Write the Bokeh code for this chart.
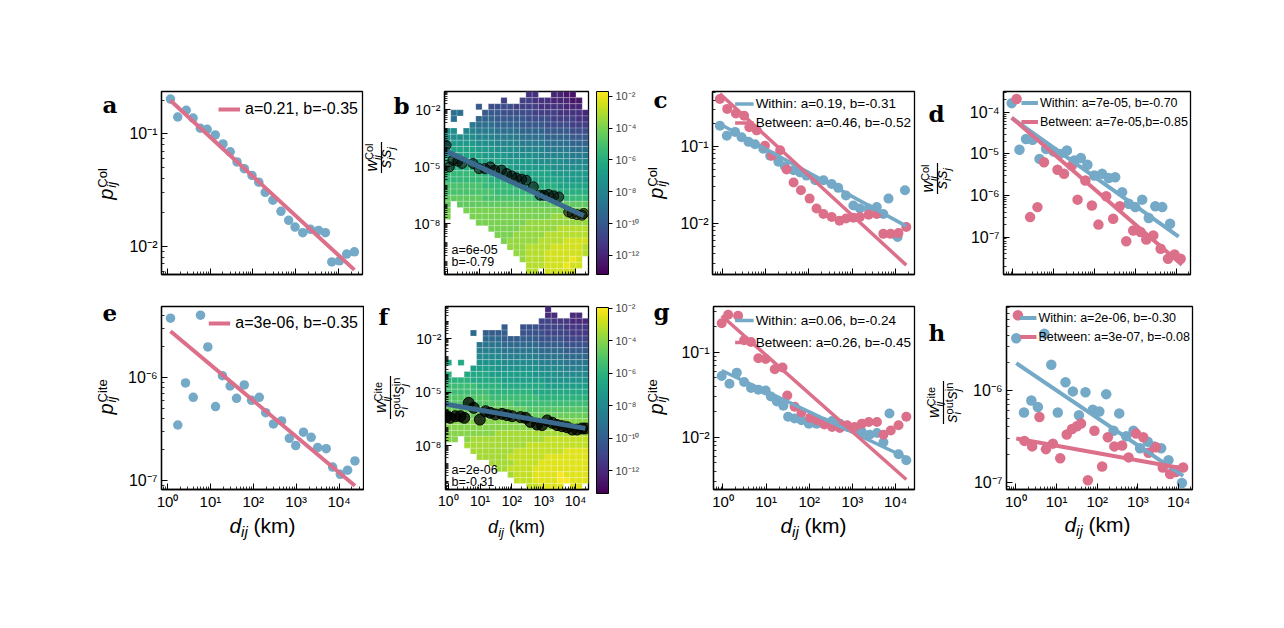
import numpy as np
from bokeh.plotting import figure
from bokeh.layouts import row, column
from bokeh.models import (FixedTicker, Label, Legend, LegendItem, ColorBar, LogColorMapper,
                          Range1d, BoxAnnotation, ColumnDataSource, CustomJSTickFormatter)
from bokeh.palettes import Viridis256
from bokeh.embed import file_html
from bokeh.resources import INLINE

BLUE = "#74a9c7"
PINK = "#dc6f8a"
DARK = "#3a6b8e"
SANS = "Liberation Sans"
SERIF = "DejaVu Serif"

# ---------------- data (log10 values) ----------------
# panel a : collaboration probability vs distance
a_logd = [0.07, 0.24, 0.44, 0.60, 0.77, 0.93, 1.12, 1.30, 1.47, 1.63, 1.80, 1.98, 2.14, 2.29,
          2.47, 2.66, 2.84, 2.99, 3.17, 3.35, 3.54, 3.70, 3.85, 4.03, 4.20, 4.38]
a_logp = [-0.69, -0.85, -0.79, -0.86, -0.95, -0.96, -1.01, -1.09, -1.16, -1.25, -1.31, -1.37, -1.43,
          -1.52, -1.59, -1.69, -1.77, -1.83, -1.88, -1.85, -1.86, -1.88, -2.14, -2.13, -2.07, -2.05]
a_fit = (0.21, -0.35)

# panel b : normalised collaboration weight
b_logd = [-0.04, 0.06, 0.17, 0.33, 0.46, 0.80, 0.99, 1.17, 1.34, 1.48, 1.69, 1.85, 2.01, 2.16,
          2.32, 2.46, 2.69, 2.90, 3.02, 3.16, 3.32, 3.48, 3.79, 3.90, 4.05, 4.21, 4.26]
b_logw = [-3.88, -5.02, -4.67, -4.72, -4.84, -4.84, -5.11, -5.11, -5.02, -5.19, -5.19, -5.37, -5.49,
          -5.60, -5.67, -5.72, -6.07, -6.51, -6.51, -6.47, -6.54, -6.60, -7.39, -7.47, -7.53, -7.56, -7.47]
b_fit = (6e-05, -0.79)
# 2-d histogram, rows top->bottom, one character per cell ('.' = empty)
b_rows = [
    ".............DD..CCBB..",
    ".........E..EEDDDCCCBB.",
    ".....G.FFFFEEEEDDDDCCC.",
    ".II...GGGFFFFFEEEEDDDDC",
    ".I...HHHGGGGGFFFFEEEEDD",
    "....JIIIHHHHGGGGFFFFEEE",
    "LL.KKJJJIIIIHHHHGGGGFFF",
    "LLLLLKKKJJJJIIIIHHHHGGG",
    "MMMMMLLLKKKKJJJJIIIIHHH",
    "NNNNNMMMLLLLKKKKJJJJIII",
    "NNNNNNMMMMLLLLLKKKKKJJJ",
    "OOOOONNNNMMMMMLLLLLKKKK",
    "OOOOOONNNNNMMMMMMLLLLLL",
    "PPPPPPOOOOONNNNNNMMMMMM",
    "PPPPPPPOOOOOONNNNNNMMMM",
    "QQQQQQPPPPPPPOOOOONNNNN",
    "QQQQQQQQPPPPPPPOOOOOOOO",
    "RRRRRRQQQQQQQQPPPPPPPPP",
    "R.RRRRRRRRRRRRRRRRRRRRR",
    "S..SSSSSSSSSSSSSSSSSSSS",
    "S...SSSSSSSSSSSSSTTTTTT",
    ".....SSSSSSSSTTTTTTTTTT",
    ".......SSSSSTTTTTTUUUUU",
    "........SSSTTTTTUUUUUUU",
    ".........STTTTTUUUUVVVV",
    "..........TTTUUUUVVVVVU",
    "...........TTUUUVVVVVVU",
    "............TUUUVVVVWV.",
    ".............UUUVVVWVV.",
    ".............UU.VVVVV..",
]

# panel c : collaboration, within / between
c_logd_w = [-0.05, 0.11, 0.30, 0.45, 0.61, 0.76, 0.95, 1.11, 1.30, 1.45, 1.65, 1.80, 1.95, 2.15,
            2.34, 2.53, 2.68, 2.86, 3.03, 3.18, 3.38, 3.57, 3.72, 3.84, 4.05, 4.22]
c_logp_w = [-0.73, -0.86, -0.81, -0.88, -0.94, -0.97, -1.03, -1.12, -1.20, -1.26, -1.31, -1.34, -1.38,
            -1.44, -1.44, -1.49, -1.54, -1.64, -1.77, -1.81, -1.81, -1.79, -1.88, -1.68, -2.18, -1.57]
c_logd_b = [-0.05, 0.12, 0.32, 0.51, 0.63, 0.80, 0.99, 1.15, 1.34, 1.49, 1.65, 1.82, 2.02, 2.18,
            2.34, 2.53, 2.71, 2.86, 3.03, 3.18, 3.38, 3.57, 3.72, 3.89, 4.07, 4.25]
c_logp_b = [-0.38, -0.51, -0.57, -0.60, -0.75, -0.79, -0.99, -1.12, -1.05, -1.30, -1.47, -1.57, -1.68,
            -1.81, -1.88, -1.92, -1.97, -1.94, -1.93, -1.92, -1.89, -1.88, -2.14, -2.14, -2.13, -2.05]
c_fit_w = (0.19, -0.31)
c_fit_b = (0.46, -0.52)

# panel d
d_logd_w = [-0.03, 0.16, 0.32, 0.48, 0.65, 0.81, 0.99, 1.15, 1.32, 1.50, 1.66, 1.82, 1.99, 2.18,
            2.34, 2.50, 2.67, 2.83, 2.99, 3.16, 3.32, 3.48, 3.65, 3.84]
d_logw_w = [-3.78, -4.90, -4.64, -4.66, -5.12, -4.88, -4.94, -5.00, -4.92, -5.16, -5.10, -5.26, -5.52,
            -5.48, -5.58, -5.56, -5.92, -6.20, -6.28, -6.10, -6.54, -6.26, -6.28, -6.68]
d_logd_b = [0.09, 0.42, 0.60, 0.76, 1.09, 1.25, 1.44, 1.58, 1.77, 1.93, 2.09, 2.28, 2.45, 2.61,
            2.77, 2.94, 3.12, 3.26, 3.43, 3.61, 3.79, 3.95, 4.10]
d_logw_b = [-3.68, -6.52, -6.28, -5.20, -5.38, -5.48, -5.28, -6.10, -5.64, -6.24, -6.70, -6.02, -6.56,
            -6.26, -7.10, -6.84, -6.88, -7.06, -6.96, -7.28, -7.52, -7.42, -7.52]
d_fit_w = (7e-05, -0.70)
d_fit_b = (7e-05, -0.85)

# panel e : citation probability
e_logd = [0.07, 0.24, 0.42, 0.60, 0.77, 0.94, 1.12, 1.28, 1.46, 1.61, 1.79, 1.96, 2.14, 2.29,
          2.47, 2.66, 2.84, 2.99, 3.17, 3.35, 3.50, 3.70, 3.85, 4.03, 4.20, 4.37]
e_logp = [-5.42, -6.46, -6.05, -6.19, -5.39, -5.70, -6.28, -5.98, -6.08, -6.20, -6.07, -6.22, -6.19,
          -6.34, -6.45, -6.42, -6.59, -6.66, -6.53, -6.58, -6.68, -6.69, -6.87, -6.94, -6.90, -6.81]
e_fit = (3e-06, -0.35)

# panel f
f_logd = [-0.04, 0.06, 0.22, 0.38, 0.50, 0.64, 0.80, 0.99, 1.17, 1.32, 1.48, 1.69, 1.85, 2.01,
          2.27, 2.43, 2.58, 2.79, 2.95, 3.11, 3.27, 3.42, 3.58, 3.74, 3.90, 4.05, 4.21, 4.31]
f_logw = [-6.35, -6.44, -6.35, -6.35, -6.44, -5.60, -5.88, -6.54, -6.07, -6.16, -6.25, -6.22, -6.29,
          -6.35, -6.40, -6.44, -6.67, -6.82, -6.85, -6.59, -6.72, -6.85, -6.91, -6.97, -7.10, -7.10,
          -7.04, -7.04]
f_fit = (2e-06, -0.31)
f_rows = [
    "................C......",
    "................CC..CC.",
    "...............EEDDDCCC",
    ".........G..FFFEEEEDDDD",
    "....H.GGGG..FFFFEEEEDDD",
    "......HHHGGGGGGFFFFEEEE",
    ".....IIIIHHHHHHGGGGFFFF",
    ".....JJJJIIIIIIHHHHGGGG",
    ".....KKKKJJJJJJIIIIHHHH",
    "N.N..LLLLKKKKKKJJJJIIII",
    "....MMMMLLLLLLLKKKKJJJJ",
    "O..NNNNMMMMMMMLLLLKKKKK",
    "OOOONNNNNMMMMMMMLLLLLLL",
    "PPPPPOOOONNNNNNNMMMMMMM",
    "PPPPPPPOOOOOOONNNNNNNNN",
    "QQQQQQQPPPPPPPPOOOOOOOO",
    "QQQQQQQQQQQPPPPPPPPPPPP",
    "RRRRRRRRRRRRRQQQQQQQQQQ",
    "RRRRRRRRRRRRRRRRRRRRRRR",
    "SSSSSSSSSSSSSSSSSSSSSSS",
    "SSSSSSSSSSSSSSSSSTTTTTT",
    "SSSSSSSSTTTTTTTTTTTTTTT",
    "SS.STTTTTTTTTTTTUUUUUUU",
    "...TTTTTTTTTTUUUUUUUUUU",
    "....TTTTTTTUUUUUUUUVVVV",
    ".....TTTTTUUUUUUVVVVVVV",
    ".......TTTTUUUUVVVVVVVV",
    "........TTUUUUVVVVVVVVV",
    "..........TUUUVVVVWVVVV",
    "...........UUUVVVVWWVVV",
    ".............UUVVVV.VV.",
]

# panel g
g_logd_w = [-0.03, 0.15, 0.32, 0.49, 0.65, 0.82, 0.99, 1.11, 1.25, 1.40, 1.51, 1.66, 1.82, 1.99,
            2.17, 2.34, 2.53, 2.71, 2.89, 3.05, 3.22, 3.40, 3.57, 3.72, 3.86, 4.07, 4.25]
g_logp_w = [-1.28, -1.37, -1.24, -1.35, -1.42, -1.44, -1.45, -1.52, -1.58, -1.63, -1.76, -1.78, -1.80,
            -1.84, -1.84, -1.82, -1.81, -1.84, -1.88, -1.90, -1.94, -1.97, -1.95, -2.06, -1.72, -2.20, -2.27]
g_logd_b = [-0.03, 0.12, 0.35, 0.49, 0.65, 0.82, 0.99, 1.20, 1.38, 1.49, 1.66, 1.82, 2.02, 2.18,
            2.35, 2.53, 2.71, 2.88, 3.05, 3.22, 3.38, 3.57, 3.72, 3.89, 4.07, 4.25]
g_logp_b = [-0.66, -0.56, -0.57, -0.86, -0.88, -1.07, -1.08, -1.20, -1.18, -1.51, -1.64, -1.71, -1.77,
            -1.80, -1.85, -1.88, -1.89, -1.86, -1.88, -1.84, -1.82, -1.82, -1.97, -1.92, -1.86, -1.76]
g_fit_w = (0.06, -0.24)
g_fit_b = (0.26, -0.45)

# panel h
h_logd_w = [0.01, 0.20, 0.38, 0.54, 0.70, 0.87, 1.03, 1.22, 1.40, 1.55, 1.71, 1.89, 2.05, 2.22,
            2.40, 2.54, 2.71, 2.89, 3.05, 3.24, 3.40, 3.57, 3.75, 3.93, 4.08]
h_logw_w = [-5.43, -6.24, -6.11, -6.18, -5.38, -5.72, -6.24, -5.91, -6.01, -6.27, -6.02, -6.21, -6.23,
            -6.04, -6.44, -6.25, -6.50, -6.44, -6.63, -6.56, -6.61, -6.63, -6.76, -6.87, -7.01]
h_logd_b = [0.05, 0.21, 0.40, 0.58, 0.74, 0.91, 1.09, 1.25, 1.38, 1.50, 1.60, 1.77, 1.93, 2.12,
            2.26, 2.42, 2.61, 2.77, 2.95, 3.13, 3.26, 3.44, 3.61, 3.79, 3.93, 4.11]
h_logw_b = [-5.18, -6.55, -6.61, -6.29, -6.64, -6.58, -6.74, -6.48, -6.42, -6.39, -6.36, -6.98, -6.44,
            -6.83, -6.51, -6.61, -6.60, -6.73, -6.47, -6.51, -6.68, -6.62, -6.84, -6.91, -6.89, -6.84]
h_fit_w = (2e-06, -0.30)
h_fit_b = (3e-07, -0.08)

# histogram cell code -> log10 density
LEVEL = {ch: -13 + 0.5 * i for i, ch in enumerate("ABCDEFGHIJKLMNOPQRSTUVWX")}

# ---------------- helpers ----------------
EM = {"p": .556, "w": .722, "s": .5, "d": .556, "i": .222, "j": .222, "C": .722, "o": .556,
      "l": .222, "t": .278, "e": .556, "u": .556, "n": .556, "k": .5, "m": .833, "(": .333,
      ")": .333, " ": .278}
MID = 0.3465   # distance (in em) from the alphabetic baseline up to the middle of the text box


def tw(s, size):
    return sum(EM.get(c, .55) for c in s) * size


def pow_fmt():
    return CustomJSTickFormatter(code="""
const k = Math.round(Math.log10(tick));
const m = {"-": "\u207b", "0": "\u2070", "1": "\u00b9", "2": "\u00b2", "3": "\u00b3",
           "4": "\u2074", "5": "\u2075", "6": "\u2076", "7": "\u2077", "8": "\u2078", "9": "\u2079"};
return "10" + String(k).split("").map(c => m[c]).join("");
""")


def minor_ticks(lo, hi, skip_exps=(), with_decades=False):
    out = []
    start = 1 if with_decades else 2
    for k in range(int(np.floor(lo)) - 1, int(np.ceil(hi)) + 1):
        for m in range(start, 10):
            if m == 1 and k in skip_exps:
                continue
            v = m * 10.0 ** k
            if lo <= np.log10(v) <= hi:
                out.append(v)
    return out


# rows: (page y of row top, top border, frame height, bottom border)
ROW1 = (0, 91, 183, 16)
ROW2 = (290, 16, 183, 21)


def panel(x0, w, fl, fw, rw, xr, yr, y_exps, show_x, tick_size=16, xtick_size=15, dense_y=False):
    ry, tb, fh, bb = rw
    p = figure(x_axis_type="log", y_axis_type="log",
               x_range=Range1d(10 ** xr[0], 10 ** xr[1]), y_range=Range1d(10 ** yr[0], 10 ** yr[1]),
               frame_width=fw, frame_height=fh,
               min_border_left=fl - x0, min_border_right=x0 + w - fl - fw,
               min_border_top=tb, min_border_bottom=bb,
               output_backend="svg", toolbar_location=None)
    p.grid.visible = False
    p.outline_line_color = "black"
    p.outline_line_width = 1.3
    p.outline_line_alpha = 1
    p.background_fill_color = "white"
    p.border_fill_color = "white"
    p.xaxis.ticker = FixedTicker(ticks=[10.0 ** k for k in range(0, 5)], minor_ticks=minor_ticks(*xr))
    p.yaxis.ticker = FixedTicker(ticks=[10.0 ** k for k in y_exps],
                                 minor_ticks=minor_ticks(yr[0], yr[1], y_exps, with_decades=dense_y))
    for ax in (p.xaxis[0], p.yaxis[0]):
        ax.formatter = pow_fmt()
        ax.major_tick_in = 6
        ax.major_tick_out = 0
        ax.minor_tick_in = 3
        ax.minor_tick_out = 0
        ax.axis_line_width = 1.3
        ax.major_tick_line_width = 1
        ax.minor_tick_line_width = 0.8
        ax.major_label_text_font = SANS
        ax.major_label_text_color = "black"
        ax.major_label_standoff = 4
    p.yaxis.major_label_text_font_size = f"{tick_size}px"
    p.xaxis.major_label_text_font_size = f"{xtick_size}px"
    p.xaxis.major_label_standoff = 3
    if not show_x:
        p.xaxis.formatter = CustomJSTickFormatter(code="return '';")
        p.xaxis.major_label_text_font_size = "1px"
        p.xaxis.major_label_standoff = 0
    return p, (fl, ry + tb, fw, fh)


def strip(x0, w, rw):
    ry, tb, fh, bb = rw
    s = figure(frame_width=w, frame_height=fh, x_range=Range1d(0, w), y_range=Range1d(0, fh),
               min_border_left=0, min_border_right=0, min_border_top=tb, min_border_bottom=bb,
               x_axis_location=None, y_axis_location=None, toolbar_location=None,
               output_backend="svg")
    s.grid.visible = False
    s.outline_line_color = None
    s.background_fill_color = "white"
    s.border_fill_color = "white"
    return s, (x0, ry + tb, w, fh)


def put(p, frame, X, Y, text, size, style="normal", font=SANS, angle=0, align="left"):
    """X, Y: page position of the start of the alphabetic baseline."""
    fl, ft, fw, fh = frame
    if angle == 90:
        X = X - MID * size
    else:
        Y = Y - MID * size
    p.add_layout(Label(x=X - fl, y=ft + fh - Y, x_units="screen", y_units="screen", text=text,
                       text_font=font, text_font_size=f"{size}px", text_font_style=style,
                       angle=angle, angle_units="deg", text_align=align,
                       text_baseline="middle", text_color="black"))


def vmath(p, frame, xb, yc, base, sub, sup, F=20, f=13, dsub=3.5, dsup=5.5):
    L = tw(base, F) + max(tw(sub, f), tw(sup, f))
    y0 = yc + L / 2
    put(p, frame, xb, y0, base, F, "italic", angle=90)
    put(p, frame, xb + dsub, y0 - tw(base, F) - 1, sub, f, "italic", angle=90)
    put(p, frame, xb - dsup, y0 - tw(base, F) - 1, sup, f, "normal", angle=90)


def vfrac(p, frame, xbar, yc, num, den, F=16, f=11, gap_n=4, gap_d=10, dsub=3, dsup=5):
    nb, ns, nu = num
    nlen = tw(nb, F) + max(tw(ns, f), tw(nu, f))
    dlen = sum(tw(b, F) + max(tw(s, f), tw(u, f)) for b, s, u in den)
    blen = max(nlen, dlen) + 3
    fl, ft, fw, fh = frame
    p.add_layout(BoxAnnotation(left=xbar - 0.6 - fl, right=xbar + 0.6 - fl,
                               bottom=ft + fh - (yc + blen / 2), top=ft + fh - (yc - blen / 2),
                               left_units="screen", right_units="screen",
                               top_units="screen", bottom_units="screen",
                               fill_color="black", fill_alpha=1, line_color=None))
    xn = xbar - gap_n
    y0 = yc + nlen / 2
    put(p, frame, xn, y0, nb, F, "italic", angle=90)
    put(p, frame, xn + dsub, y0 - tw(nb, F), ns, f, "italic", angle=90)
    put(p, frame, xn - dsup, y0 - tw(nb, F), nu, f, "normal", angle=90)
    xd = xbar + gap_d
    y = yc + dlen / 2
    for b, s, u in den:
        put(p, frame, xd, y, b, F, "italic", angle=90)
        if s:
            put(p, frame, xd + dsub, y - tw(b, F), s, f, "italic", angle=90)
        if u:
            put(p, frame, xd - dsup, y - tw(b, F), u, f, "normal", angle=90)
        y -= tw(b, F) + max(tw(s, f), tw(u, f))


def xlabel(p, frame, xc, yb, F=21, f=15):
    dw, iw, sw, kw = tw("d", F), tw("ij", f), tw(" ", F), tw("(km)", F)
    x0 = xc - (dw + iw + sw + kw) / 2
    put(p, frame, x0, yb, "d", F, "italic")
    put(p, frame, x0 + dw, yb + 4, "ij", f, "italic")
    put(p, frame, x0 + dw + iw + sw, yb, "(km)", F)


def letter(p, frame, X, Y, t):
    put(p, frame, X, Y, t, 23, "bold", font=SERIF)


def dots(p, logd, logv, color, size):
    return p.scatter(np.power(10.0, logd), np.power(10.0, logv), size=size, marker="circle",
                     fill_color=color, line_color=None)


def fitline(p, fit, lo, hi, color, width):
    a, b = fit
    xs = np.power(10.0, [lo, hi])
    return p.line(xs, a * xs ** b, line_color=color, line_width=width)


def legend(p, items, size, gw, H, spacing, margin, standoff):
    lg = Legend(items=[LegendItem(label=t, renderers=[r]) for t, r in items], location="top_right",
                margin=margin, padding=0, spacing=spacing, glyph_width=gw, glyph_height=H,
                label_height=H, label_standoff=standoff, label_text_font=SANS,
                label_text_font_size=f"{size}px", label_text_color="black",
                border_line_color=None, background_fill_alpha=0)
    p.add_layout(lg)


def heat(p, rows, xr, yr, mapper):
    nr, nc = len(rows), len(rows[0])
    xe = np.logspace(xr[0], xr[1], nc + 1)
    ye = np.logspace(yr[1], yr[0], nr + 1)
    L, R, T, B, V = [], [], [], [], []
    for r, s in enumerate(rows):
        for c, chv in enumerate(s[:nc]):
            if chv == ".":
                continue
            L.append(xe[c]); R.append(xe[c + 1]); T.append(ye[r]); B.append(ye[r + 1])
            V.append(10.0 ** LEVEL[chv])
    src = ColumnDataSource(dict(left=L, right=R, top=T, bottom=B, v=V))
    p.quad(left="left", right="right", top="top", bottom="bottom", source=src,
           fill_color={"field": "v", "transform": mapper}, line_color="white",
           line_alpha=0.35, line_width=0.6)


def colorbar(p, frame, mapper, dy=0, h=None):
    fl, ft, fw, fh = frame
    cb = ColorBar(color_mapper=mapper, location=(fw + 8, dy), orientation="vertical", width=12,
                  height=h or fh, padding=0, margin=0,
                  ticker=FixedTicker(ticks=[10.0 ** k for k in (-12, -10, -8, -6, -4, -2)]),
                  formatter=pow_fmt(), major_tick_in=0, major_tick_out=4,
                  major_tick_line_color="black", minor_tick_line_color=None,
                  major_label_text_font=SANS, major_label_text_font_size="11px",
                  label_standoff=3, bar_line_color="black", border_line_color=None,
                  background_fill_alpha=0)
    p.add_layout(cb)


XR_AE = (-0.14, 4.57)
XR_BF = (-0.09, 4.41)
XR_CG = (-0.22, 4.44)
XR_DH = (-0.23, 4.34)

# ---------------- label strips ----------------
sa, SA = strip(0, 122, ROW1)
sb, SB = strip(364, 47, ROW1)
sc, SC = strip(640, 35, ROW1)
sd, SD = strip(916, 42, ROW1)
se, SE = strip(0, 122, ROW2)
sf, SF = strip(364, 48, ROW2)
sg, SG = strip(640, 36, ROW2)
sh, SH = strip(916, 54, ROW2)
X_TOP = ROW2[0] + ROW2[1] + ROW2[2] + ROW2[3]
sx = figure(frame_width=1284, frame_height=628 - X_TOP, x_range=Range1d(0, 1284),
            y_range=Range1d(0, 628 - X_TOP),
            min_border_left=0, min_border_right=0, min_border_top=0, min_border_bottom=0,
            x_axis_location=None, y_axis_location=None, toolbar_location=None, output_backend="svg")
sx.grid.visible = False
sx.outline_line_color = None
SX = (0, X_TOP, 1284, 628 - X_TOP)

# ---- a ----
pa, FA = panel(122, 242, 161, 201, ROW1, XR_AE, (-2.252, -0.623), (-2, -1), False)
dots(pa, a_logd, a_logp, BLUE, 9.5)
la = fitline(pa, a_fit, min(a_logd), max(a_logd), PINK, 4)
legend(pa, [("a=0.21, b=-0.35", la)], 16, 22, 28, 0, 4, 5)
vmath(sa, SA, 112, 184, "p", "ij", "Col")
letter(sa, SA, 102, 112, "a")

# ---- b ----
YR_B = (-10.68, -1.053)
pb, FB = panel(411, 229, 444, 144, ROW1, XR_BF, YR_B, (-8, -5, -2), False, tick_size=14, dense_y=True)
mb = LogColorMapper(palette=Viridis256, low=10 ** -13.2, high=10 ** -1.7)
heat(pb, b_rows, XR_BF, YR_B, mb)
pb.scatter(np.power(10.0, b_logd), np.power(10.0, b_logw), size=10, marker="circle",
           fill_color="black", fill_alpha=0.55, line_color="black", line_alpha=0.8)
fitline(pb, b_fit, XR_BF[0], max(b_logd), DARK, 5)
colorbar(pb, FB, mb)
put(pb, FB, 451, 254, "a=6e-05", 12.5)
put(pb, FB, 451, 266, "b=-0.79", 12.5)
vfrac(sb, SB, 381, 157, ("w", "ij", "Col"), [("s", "i", ""), ("s", "j", "")])
letter(sb, SB, 393, 113, "b")

# ---- c ----
pc, FC = panel(675, 241, 712, 202, ROW1, XR_CG, (-2.67, -0.283), (-2, -1), False)
dots(pc, c_logd_w, c_logp_w, BLUE, 10)
dots(pc, c_logd_b, c_logp_b, PINK, 10)
lo_c, hi_c = min(c_logd_w + c_logd_b), max(c_logd_w + c_logd_b)
lcw = fitline(pc, c_fit_w, lo_c, hi_c, BLUE, 3.5)
lcb = fitline(pc, c_fit_b, lo_c, hi_c, PINK, 3.5)
legend(pc, [("Within: a=0.19, b=-0.31", lcw), ("Between: a=0.46, b=-0.52", lcb)], 13.5, 19, 19, 0, 3, 2)
vmath(sc, SC, 662, 183, "p", "ij", "Col")
letter(sc, SC, 653, 107, "c")

# ---- d ----
pd_, FD = panel(958, 326, 1003, 187, ROW1, XR_DH, (-7.9, -3.5), (-7, -6, -5, -4), False)
dots(pd_, d_logd_w, d_logw_w, BLUE, 10.5)
dots(pd_, d_logd_b, d_logw_b, PINK, 10.5)
lo_d, hi_d = min(d_logd_w + d_logd_b), max(d_logd_w + d_logd_b)
ldw = fitline(pd_, d_fit_w, lo_d, hi_d - 0.05, BLUE, 4)
ldb = fitline(pd_, d_fit_b, lo_d, hi_d + 0.03, PINK, 4)
legend(pd_, [("Within: a=7e-05, b=-0.70", ldw), ("Between: a=7e-05,b=-0.85", ldb)], 12.5, 17, 19, 0, 2, 2)
vfrac(sd, SD, 937, 178, ("w", "ij", "Col"), [("s", "i", ""), ("s", "j", "")])
letter(sd, SD, 928, 121, "d")

# ---- e ----
pe, FE = panel(122, 242, 161, 202, ROW2, XR_AE, (-7.088, -5.306), (-7, -6), True)
dots(pe, e_logd, e_logp, BLUE, 9.5)
le = fitline(pe, e_fit, min(e_logd), max(e_logd), PINK, 4)
legend(pe, [("a=3e-06, b=-0.35", le)], 16, 22, 24, 0, 5, 5)
vmath(se, SE, 112, 397, "p", "ij", "Cite")
xlabel(sx, SX, 262, 530)
letter(se, SE, 102, 320, "e")

# ---- f ----
YR_F = (-10.47, -0.183)
pf, FF = panel(412, 228, 445, 143, ROW2, XR_BF, YR_F, (-8, -5, -2), True, tick_size=14,
               xtick_size=14, dense_y=True)
mf = LogColorMapper(palette=Viridis256, low=10 ** -13.4, high=10 ** -1.94)
heat(pf, f_rows, XR_BF, YR_F, mf)
pf.scatter(np.power(10.0, f_logd), np.power(10.0, f_logw), size=11, marker="circle",
           fill_color="black", fill_alpha=0.75, line_color="black", line_alpha=0.9)
fitline(pf, f_fit, XR_BF[0], max(f_logd), DARK, 5)
colorbar(pf, FF, mf, dy=-4, h=186)
put(pf, FF, 451, 474, "a=2e-06", 12.5)
put(pf, FF, 451, 486, "b=-0.31", 12.5)
vfrac(sf, SF, 390, 397, ("w", "ij", "Cite"), [("s", "i", "out"), ("s", "j", "in")], gap_d=14)
xlabel(sx, SX, 516, 531, F=18, f=13)
letter(sf, SF, 378, 324, "f")

# ---- g ----
pg, FG = panel(676, 240, 713, 201, ROW2, XR_CG, (-2.615, -0.462), (-2, -1), True)
dots(pg, g_logd_w, g_logp_w, BLUE, 10)
dots(pg, g_logd_b, g_logp_b, PINK, 10)
lo_g, hi_g = min(g_logd_w + g_logd_b), max(g_logd_w + g_logd_b)
lgw = fitline(pg, g_fit_w, lo_g, hi_g, BLUE, 3.5)
lgb = fitline(pg, g_fit_b, lo_g, hi_g, PINK, 3.5)
legend(pg, [("Within: a=0.06, b=-0.24", lgw), ("Between: a=0.26, b=-0.45", lgb)], 13.5, 19, 22, -3, 3, 2)
vmath(sg, SG, 662, 397, "p", "ij", "Cite")
xlabel(sx, SX, 813, 530)
letter(sg, SG, 653, 319, "g")

# ---- h ----
ph, FH = panel(970, 314, 1004, 186, ROW2, XR_DH, (-7.08, -5.084), (-7, -6), True)
dots(ph, h_logd_w, h_logw_w, BLUE, 10.5)
dots(ph, h_logd_b, h_logw_b, PINK, 10.5)
lo_h, hi_h = min(h_logd_w + h_logd_b), max(h_logd_w + h_logd_b)
lhw = fitline(ph, h_fit_w, lo_h, hi_h, BLUE, 4)
lhb = fitline(ph, h_fit_b, lo_h, hi_h, PINK, 4)
legend(ph, [("Within: a=2e-06, b=-0.30", lhw), ("Between: a=3e-07, b=-0.08", lhb)], 12.5, 17, 19, 0, 2, 2)
vfrac(sh, SH, 943, 402, ("w", "ij", "Cite"), [("s", "i", "out"), ("s", "j", "in")], gap_d=14)
xlabel(sx, SX, 1097, 529)
letter(sh, SH, 928, 340, "h")

layout = column(row(sa, pa, sb, pb, sc, pc, sd, pd_),
                row(se, pe, sf, pf, sg, pg, sh, ph),
                sx)
open("out.html", "w").write(file_html(layout, INLINE))
